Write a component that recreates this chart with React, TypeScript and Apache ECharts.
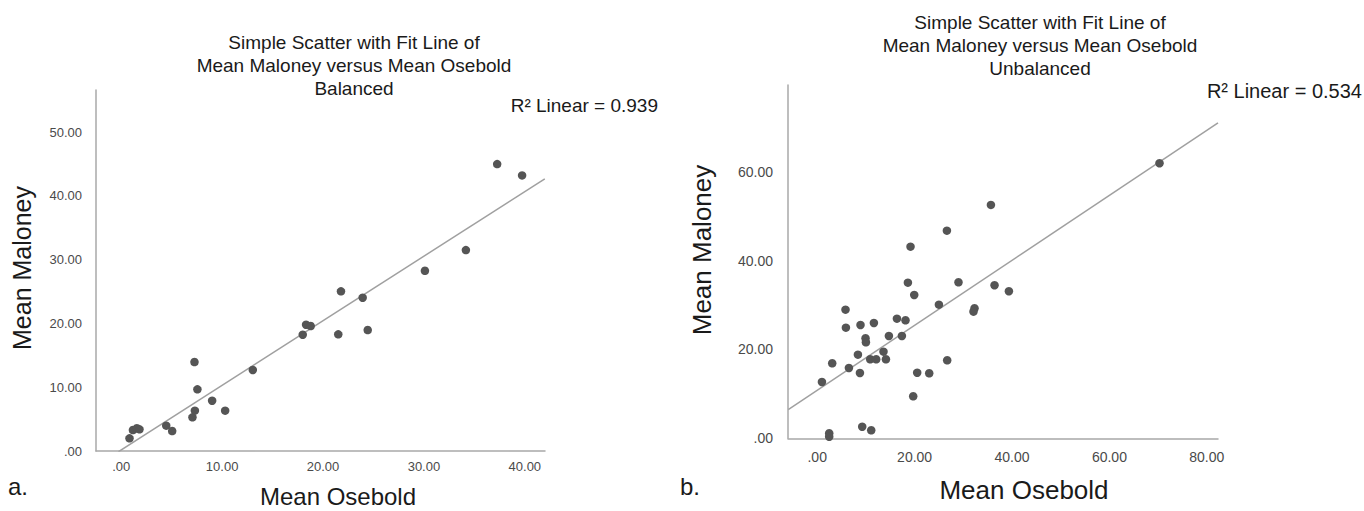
import React, { useEffect, useRef } from "react";
import * as echarts from "echarts";

// Balanced panel (a)
const balancedOsebold = [0.82, 1.16, 1.55, 1.81, 4.46, 5.05, 7.06, 7.3, 7.26, 7.55, 9.01, 10.3, 13.04, 17.99, 18.32, 18.78, 21.51, 21.78, 23.93, 24.43, 30.1, 34.16, 37.26, 39.73];
const balancedMaloney = [1.99, 3.29, 3.56, 3.4, 3.97, 3.13, 5.28, 6.32, 13.95, 9.67, 7.88, 6.32, 12.7, 18.23, 19.8, 19.59, 18.29, 25.03, 24.03, 18.97, 28.26, 31.5, 44.98, 43.21];
const balancedFitX = [-0.27, 41.98];
const balancedFitY = [-0.11, 42.68];
const balancedXTicks = [0, 10, 20, 30, 40];
const balancedYTicks = [0, 10, 20, 30, 40, 50];
const balancedR2 = "0.939";

// Unbalanced panel (b)
const unbalancedOsebold = [26.63, 19.16, 18.62, 29.01, 36.41, 39.36, 19.92, 24.99, 5.81, 32.3, 32.09, 16.37, 18.13, 5.89, 8.89, 11.64, 9.92, 10.0, 14.72, 17.39, 13.61, 8.36, 10.88, 12.11, 14.11, 3.08, 6.51, 26.69, 8.77, 20.53, 23.0, 0.97, 19.71, 9.24, 11.09, 2.46, 2.46, 35.67, 70.29];
const unbalancedMaloney = [46.73, 43.12, 35.02, 35.11, 34.44, 33.09, 32.25, 30.07, 28.94, 29.26, 28.49, 26.92, 26.56, 24.89, 25.5, 25.95, 22.51, 21.61, 23.02, 23.02, 19.49, 18.82, 17.78, 17.78, 17.78, 16.88, 15.82, 17.56, 14.7, 14.76, 14.63, 12.67, 9.45, 2.61, 1.8, 1.13, 0.36, 52.51, 61.9];
const unbalancedFitX = [-5.95, 82.3];
const unbalancedFitY = [6.44, 70.97];
const unbalancedXTicks = [0, 20, 40, 60, 80];
const unbalancedYTicks = [0, 20, 40, 60];
const unbalancedR2 = "0.534";

const FONT = "'Liberation Sans', Arial, Helvetica, sans-serif";
const fmt = (v: number) => (Math.abs(v) < 1e-9 ? ".00" : Number(v).toFixed(2));
const zip = (xs: number[], ys: number[]) => xs.map((x, i) => [x, ys[i]]);

export default function App() {
  const ref = useRef<HTMLDivElement>(null);
  useEffect(() => {
    if (!ref.current) return;
    const chart = echarts.init(ref.current, undefined, { renderer: "svg" });
    const axisLine = { show: true, onZero: false, lineStyle: { color: "#a8a8a8", width: 1.5 } };
    const mkAxis = (gridIndex: number, min: number, max: number, ticks: number[], size: number, margin: number) => ({
      type: "value",
      gridIndex,
      min,
      max,
      axisLine,
      axisTick: { show: false },
      splitLine: { show: false },
      axisLabel: {
        customValues: ticks,
        formatter: fmt,
        color: "#4a4a4a",
        fontSize: size,
        fontFamily: FONT,
        margin,
      },
    });
    const txt = (x: number, y: number, text: string, size: number, extra: any = {}) => ({
      type: "text",
      x,
      y,
      rotation: extra.rotation || 0,
      style: {
        text,
        fontSize: size,
        fontFamily: FONT,
        fill: extra.fill || "#1a1a1a",
        align: extra.align || "center",
        verticalAlign: "middle",
      },
    });
    chart.setOption({
      animation: false,
      backgroundColor: "#ffffff",
      grid: [
        { left: 96, top: 90, width: 449, height: 361 },
        { left: 788, top: 85, width: 430, height: 353.3 },
      ],
      xAxis: [
        mkAxis(0, -2.5, 42, balancedXTicks, 13, 9),
        mkAxis(1, -6, 82.3, unbalancedXTicks, 14, 12),
      ],
      yAxis: [
        mkAxis(0, 0, 56.6, balancedYTicks, 13, 14),
        mkAxis(1, 0, 79.5, unbalancedYTicks, 14, 15),
      ],
      series: [
        {
          type: "line",
          xAxisIndex: 0,
          yAxisIndex: 0,
          data: zip(balancedFitX, balancedFitY),
          symbol: "none",
          lineStyle: { color: "#a0a0a0", width: 1.5 },
          z: 1,
        },
        {
          type: "scatter",
          xAxisIndex: 0,
          yAxisIndex: 0,
          data: zip(balancedOsebold, balancedMaloney),
          symbolSize: 8.5,
          itemStyle: { color: "#555555", opacity: 1 },
          z: 2,
        },
        {
          type: "line",
          xAxisIndex: 1,
          yAxisIndex: 1,
          data: zip(unbalancedFitX, unbalancedFitY),
          symbol: "none",
          lineStyle: { color: "#a0a0a0", width: 1.5 },
          z: 1,
        },
        {
          type: "scatter",
          xAxisIndex: 1,
          yAxisIndex: 1,
          data: zip(unbalancedOsebold, unbalancedMaloney),
          symbolSize: 8.5,
          itemStyle: { color: "#555555", opacity: 1 },
          z: 2,
        },
      ],
      graphic: [
        txt(354, 42, "Simple Scatter with Fit Line of", 19),
        txt(354, 65, "Mean Maloney versus Mean Osebold", 19),
        txt(354, 88, "Balanced", 19),
        txt(1040, 22, "Simple Scatter with Fit Line of", 19),
        txt(1040, 45, "Mean Maloney versus Mean Osebold", 19),
        txt(1040, 68, "Unbalanced", 19),
        txt(658, 105, "R\u00B2 Linear = " + balancedR2, 19, { align: "right" }),
        txt(1362, 91, "R\u00B2 Linear = " + unbalancedR2, 20, { align: "right" }),
        txt(22, 268, "Mean Maloney", 25, { rotation: Math.PI / 2 }),
        txt(702, 250, "Mean Maloney", 26, { rotation: Math.PI / 2 }),
        txt(338, 496, "Mean Osebold", 24),
        txt(1024, 490, "Mean Osebold", 26),
        txt(8, 486, "a.", 24, { align: "left" }),
        txt(680, 486, "b.", 24, { align: "left" }),
      ],
    });
    return () => chart.dispose();
  }, []);
  return (
    <div
      ref={ref}
      style={{ position: "fixed", left: 0, top: 0, width: 1364, height: 511, background: "#fff" }}
    />
  );
}
